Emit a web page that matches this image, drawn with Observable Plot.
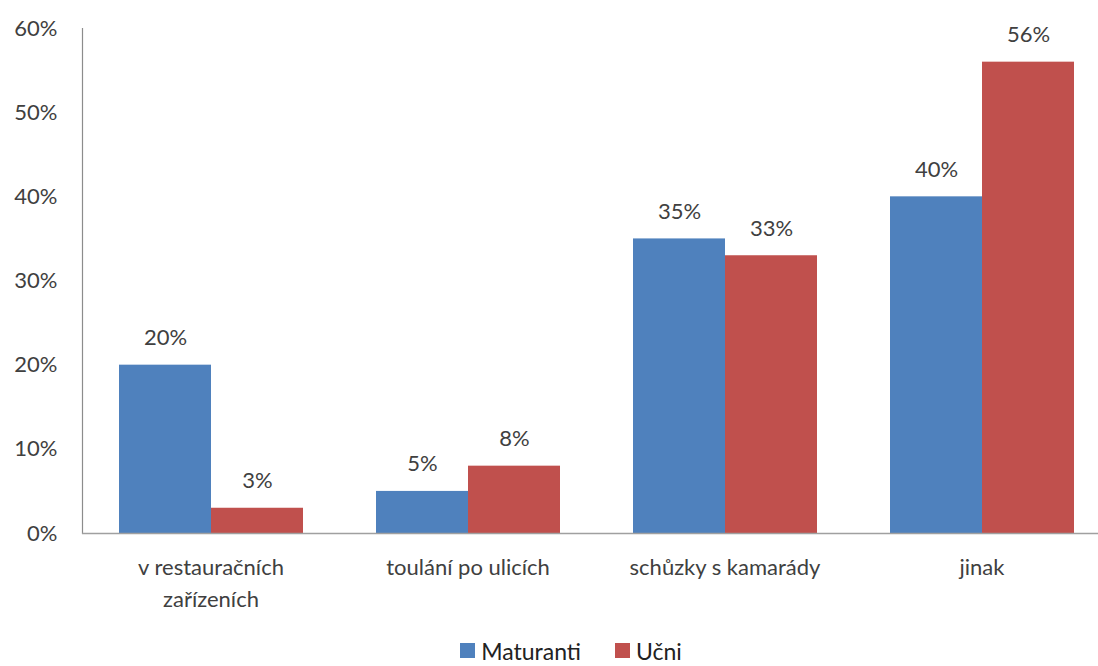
<!DOCTYPE html>
<html>
<head>
<meta charset="utf-8">
<script src="https://cdn.jsdelivr.net/npm/d3@7"></script>
<script src="https://cdn.jsdelivr.net/npm/@observablehq/plot@0.6"></script>
<style>
  html, body { margin: 0; padding: 0; background: #fff; }
  #chart { width: 1098px; height: 620px; overflow: hidden; }
  #legend { display: flex; justify-content: center; width: 1054px; padding-left: 44px; margin-top: 14px; }
  #legend span { margin-right: 34px !important; }
  #legend span:last-child { margin-right: 0 !important; }
  #legend svg { margin-right: 6px !important; }
</style>
</head>
<body>
<div id="chart"></div>
<div id="legend"></div>
<script>
const categories = ["v restauračních\nzařízeních", "toulání po ulicích", "schůzky s kamarády", "jinak"];
const series = ["Maturanti", "Učni"];
const maturanti = [20, 5, 35, 40];
const ucni = [3, 8, 33, 56];
const colors = ["#4F81BD", "#C0504D"];
const yTicks = [0, 10, 20, 30, 40, 50, 60];

const data = [];
categories.forEach((c, i) => {
  data.push({category: c, series: series[0], value: maturanti[i]});
  data.push({category: c, series: series[1], value: ucni[i]});
});

const font = "Lato, 'Open Sans', sans-serif";
const textColor = "#404040";

const chart = Plot.plot({
  width: 1098,
  height: 620,
  marginLeft: 81,
  marginRight: -12,
  marginTop: 28,
  marginBottom: 87,
  style: {fontFamily: font, fontSize: "22px", color: textColor, background: "#fff"},
  fx: {domain: categories, padding: 0, label: null},
  x: {domain: series, paddingInner: 0, paddingOuter: 0.383, axis: null},
  y: {domain: [0, 60], label: null},
  color: {domain: series, range: colors},
  marks: [
    Plot.frame({anchor: "left", stroke: "#8c8c8c", strokeWidth: 1.2, fx: () => categories[0]}),
    Plot.axisY({ticks: yTicks, tickFormat: d => d + "%", tickSize: 0, tickPadding: 25, label: null, fontSize: 22, fill: textColor}),
    Plot.axisFx({anchor: "bottom", tickSize: 0, tickPadding: 19, label: null, fontSize: 22, fill: textColor, lineHeight: 1.45}),
    Plot.barY(data, {fx: "category", x: "series", y: "value", fill: "series"}),
    Plot.ruleY([0], {stroke: "#a0a0a0", strokeWidth: 1.5}),
    Plot.text(data, {fx: "category", x: "series", y: "value", text: d => d.value + "%", lineAnchor: "bottom", dy: -20, fontSize: 22, fill: textColor})
  ]
});
document.getElementById("chart").appendChild(chart);

const legend = Plot.legend({
  color: {domain: series, range: colors},
  swatchSize: 15,
  style: {fontFamily: font, fontSize: "23px", color: "#222"}
});
document.getElementById("legend").appendChild(legend);
</script>
</body>
</html>
